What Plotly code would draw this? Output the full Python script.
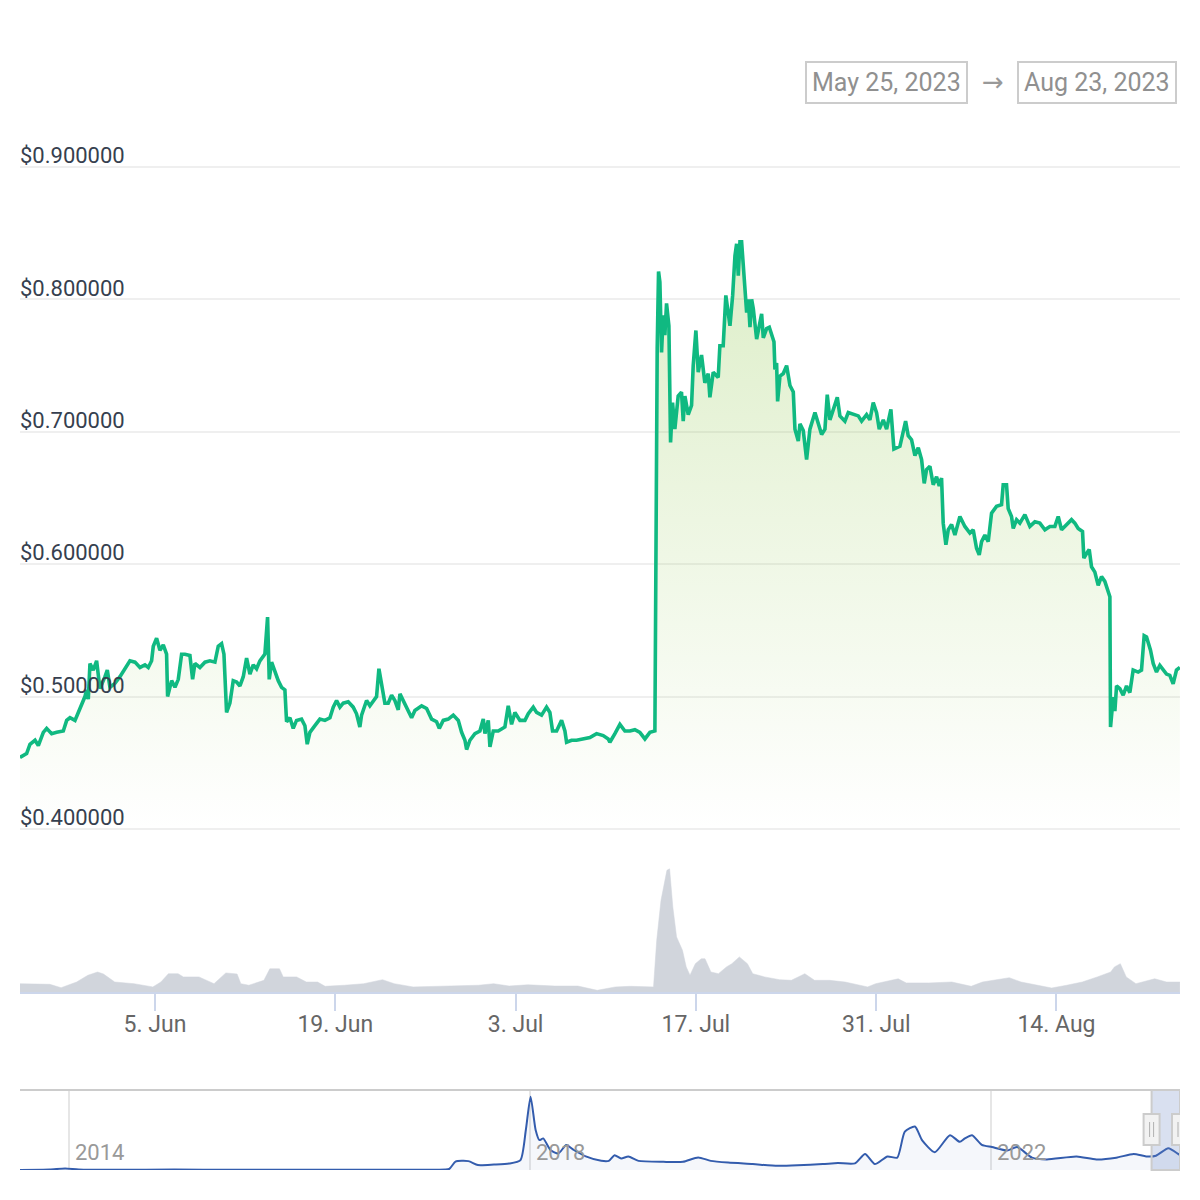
import pandas as pd
import plotly.graph_objects as go

# ---------------- data ----------------
start_time = "2023-05-25 00:00"
view_start = "2023-05-25 12:26"
view_end = "2023-08-23 14:10"

# (hours since start_time, price in USD)
price_points = [
    (12.4, 0.454), (24.8, 0.457), (31.0, 0.464), (40.4, 0.467), (46.6, 0.463), (55.9, 0.473), (62.1, 0.476),
    (71.4, 0.472), (80.7, 0.473), (93.1, 0.474), (99.4, 0.482), (105.6, 0.484), (114.9, 0.482), (121.1, 0.488),
    (127.3, 0.495), (133.5, 0.500), (136.6, 0.505), (139.7, 0.498), (142.8, 0.525), (149.0, 0.520), (155.2, 0.527),
    (161.4, 0.506), (170.8, 0.515), (175.1, 0.520), (180.1, 0.507), (189.4, 0.510), (198.7, 0.515), (208.0, 0.521),
    (217.3, 0.527), (226.7, 0.526), (236.0, 0.522), (245.3, 0.524), (251.5, 0.522), (257.7, 0.527), (260.8, 0.538),
    (267.0, 0.544), (273.2, 0.535), (279.4, 0.539), (285.6, 0.532), (287.5, 0.500), (295.0, 0.512), (301.2, 0.507),
    (307.4, 0.513), (313.6, 0.532), (319.8, 0.532), (329.1, 0.531), (334.1, 0.513), (338.4, 0.525), (347.7, 0.522),
    (357.1, 0.526), (366.4, 0.527), (375.7, 0.526), (381.9, 0.538), (388.1, 0.540), (392.5, 0.532), (397.4, 0.488),
    (403.6, 0.495), (409.8, 0.512), (416.1, 0.511), (422.3, 0.508), (428.5, 0.515), (434.7, 0.529), (440.9, 0.517),
    (447.1, 0.524), (453.3, 0.521), (459.5, 0.527), (468.8, 0.532), (473.8, 0.560), (476.9, 0.513), (481.3, 0.526),
    (487.5, 0.519), (493.7, 0.512), (499.9, 0.507), (506.1, 0.505), (509.2, 0.481), (515.4, 0.484), (521.6, 0.476),
    (527.8, 0.482), (537.1, 0.483), (543.4, 0.478), (547.7, 0.464), (552.7, 0.473), (562.0, 0.478), (571.3, 0.483),
    (580.6, 0.482), (590.0, 0.484), (596.2, 0.492), (602.4, 0.497), (608.6, 0.492), (614.8, 0.495), (624.1, 0.496),
    (633.4, 0.492), (639.6, 0.487), (645.8, 0.477), (649.0, 0.486), (658.3, 0.497), (664.5, 0.493), (670.7, 0.497),
    (676.9, 0.500), (681.3, 0.521), (686.2, 0.510), (692.4, 0.495), (698.6, 0.495), (704.9, 0.501), (711.1, 0.497),
    (717.3, 0.490),
    (720.5, 0.502), (729.8, 0.4945), (742.2, 0.484), (748.4, 0.4895), (760.9, 0.493), (770.2, 0.491), (779.5, 0.483),
    (788.8, 0.481), (793.8, 0.476), (801.2, 0.482), (810.5, 0.483), (819.9, 0.486), (829.2, 0.482), (835.4, 0.473),
    (841.6, 0.467), (844.7, 0.460), (850.9, 0.467), (860.2, 0.472), (869.5, 0.474), (875.8, 0.483), (878.9, 0.472),
    (885.1, 0.482), (888.2, 0.462), (894.4, 0.474), (903.7, 0.474), (916.1, 0.477), (922.3, 0.493), (928.5, 0.479),
    (934.7, 0.488), (944.1, 0.482), (953.4, 0.482), (959.6, 0.487), (968.9, 0.492), (975.1, 0.488), (984.4, 0.486),
    (993.7, 0.492), (999.9, 0.488), (1004.9, 0.474), (1012.4, 0.474), (1021.7, 0.482), (1027.9, 0.474),
    (1031.0, 0.4655), (1040.3, 0.467), (1049.6, 0.467), (1062.1, 0.468), (1074.5, 0.469), (1086.9, 0.472),
    (1099.3, 0.4705), (1108.6, 0.468), (1111.7, 0.4655), (1121.1, 0.472), (1130.4, 0.479), (1139.7, 0.474),
    (1149.0, 0.474), (1158.3, 0.475), (1167.6, 0.473), (1177.0, 0.468), (1186.3, 0.473), (1195.6, 0.474),
    (1197.4, 0.611), (1199.9, 0.763), (1202.4, 0.821), (1204.9, 0.813), (1208.0, 0.760), (1211.1, 0.788),
    (1214.2, 0.773), (1217.3, 0.797), (1221.7, 0.780), (1224.8, 0.692), (1228.5, 0.722), (1232.8, 0.702),
    (1239.0, 0.727), (1245.2, 0.730), (1248.4, 0.708), (1251.5, 0.727), (1257.7, 0.713), (1263.9, 0.720),
    (1267.0, 0.750), (1272.0, 0.7765), (1276.3, 0.745), (1282.5, 0.758), (1288.7, 0.737), (1295.0, 0.744),
    (1298.1, 0.726), (1304.3, 0.745), (1313.6, 0.741), (1316.7, 0.765), (1322.9, 0.765), (1327.8, 0.803),
    (1335.5, 0.780), (1340.5, 0.803), (1344.8, 0.833), (1347.9, 0.842), (1351.0, 0.818), (1354.1, 0.8435),
    (1357.2, 0.8435), (1360.3, 0.823), (1363.4, 0.813), (1366.6, 0.790), (1369.7, 0.800), (1372.8, 0.779),
    (1375.9, 0.800), (1379.0, 0.793), (1385.2, 0.770), (1391.4, 0.785), (1394.5, 0.789), (1397.6, 0.771),
    (1403.8, 0.778), (1408.8, 0.779), (1413.1, 0.773), (1417.5, 0.768), (1419.3, 0.747), (1422.4, 0.752),
    (1424.3, 0.723), (1428.7, 0.742), (1434.9, 0.744), (1441.1, 0.750), (1447.3, 0.735), (1453.5, 0.730),
    (1456.6, 0.702), (1462.8, 0.693), (1465.9, 0.706), (1472.1, 0.701), (1478.3, 0.679), (1484.5, 0.702),
    (1493.9, 0.7145), (1500.1, 0.707), (1506.3, 0.698), (1512.5, 0.702), (1516.8, 0.728), (1521.8, 0.709),
    (1528.0, 0.717), (1535.5, 0.726), (1540.4, 0.712), (1549.7, 0.708), (1556.0, 0.7145), (1565.3, 0.713),
    (1574.6, 0.712), (1580.8, 0.708), (1590.1, 0.713), (1596.3, 0.709), (1602.5, 0.722), (1608.7, 0.7145),
    (1613.7, 0.702), (1621.2, 0.709), (1627.4, 0.702), (1635.4, 0.717), (1641.0, 0.687), (1652.2, 0.689),
    (1658.4, 0.702), (1662.8, 0.708), (1667.7, 0.697), (1673.9, 0.694), (1680.2, 0.682), (1686.4, 0.688),
    (1692.6, 0.679), (1697.5, 0.661), (1701.9, 0.6715), (1708.1, 0.674), (1714.3, 0.660), (1720.5, 0.666),
    (1725.5, 0.659), (1729.8, 0.665), (1732.9, 0.631), (1737.9, 0.6146), (1742.3, 0.626), (1748.5, 0.630),
    (1754.7, 0.622), (1764.0, 0.636), (1773.3, 0.6285), (1782.6, 0.6235), (1788.8, 0.626), (1795.0, 0.612),
    (1800.0, 0.607), (1804.4, 0.617), (1810.6, 0.622), (1816.8, 0.617), (1823.0, 0.6386), (1832.3, 0.6437),
    (1841.6, 0.645), (1844.7, 0.660), (1850.9, 0.660), (1854.0, 0.642), (1860.2, 0.636), (1863.4, 0.627),
    (1869.6, 0.6336), (1875.8, 0.631), (1885.1, 0.6374), (1894.4, 0.6285), (1903.7, 0.632), (1913.0, 0.631),
    (1922.4, 0.626), (1931.7, 0.6285), (1941.0, 0.6285), (1947.2, 0.636), (1953.4, 0.626), (1962.7, 0.630),
    (1972.0, 0.6336), (1978.2, 0.631), (1984.4, 0.627), (1992.5, 0.6247), (1995.0, 0.6045), (2000.0, 0.608),
    (2005.0, 0.611), (2009.3, 0.598), (2015.5, 0.594), (2021.7, 0.584), (2027.9, 0.5906), (2034.1, 0.587),
    (2040.3, 0.578), (2043.5, 0.5754), (2044.7, 0.477), (2049.7, 0.4995), (2052.8, 0.489), (2055.9, 0.508),
    (2062.1, 0.506), (2068.3, 0.501), (2074.5, 0.508), (2080.7, 0.503), (2086.9, 0.520), (2096.2, 0.5185),
    (2102.4, 0.520), (2107.4, 0.546), (2111.8, 0.545), (2119.2, 0.535), (2124.2, 0.525), (2130.4, 0.5185),
    (2136.6, 0.5236), (2142.8, 0.520), (2149.0, 0.517), (2155.2, 0.516), (2161.4, 0.5096), (2167.6, 0.520),
    (2173.9, 0.522),
]

# (hours since start_time, volume in billion USD)
volume_points = [
    (12, 0.54), (46.5, 0.54), (68, 0.50), (89, 0.28), (118, 0.65), (139, 1.09), (157, 1.30), (168, 1.17),
    (189, 0.65), (225, 0.54), (260, 0.33), (275, 0.65), (289, 1.19), (307, 1.19), (317, 0.98), (346, 0.98),
    (374, 0.54), (396, 1.24), (417, 1.17), (424, 0.54), (439, 0.44), (467, 0.76), (478, 1.51), (496, 1.51),
    (503, 0.98), (528, 0.98), (546, 0.65), (567, 0.65), (581, 0.37), (617, 0.44), (653, 0.54), (688, 0.80),
    (710, 0.54), (745, 0.33), (795, 0.37), (867, 0.44), (895, 0.54), (924, 0.39), (959, 0.47), (1009, 0.39),
    (1052, 0.39), (1088, 0.11), (1122, 0.33), (1150, 0.37), (1193, 0.33), (1199, 3.36), (1207, 5.96),
    (1218, 7.91), (1223, 8.01), (1229, 5.53), (1236, 3.58), (1247, 2.71), (1254, 1.63), (1261, 1.09),
    (1271, 1.84), (1282, 2.16), (1289, 2.16), (1300, 1.30), (1314, 1.19), (1329, 1.63), (1339, 1.84),
    (1353, 2.28), (1368, 1.84), (1378, 1.19), (1400, 0.98), (1428, 0.80), (1450, 0.76), (1475, 1.19),
    (1493, 0.76), (1521, 0.76), (1550, 0.65), (1592, 0.33), (1607, 0.54), (1649, 0.86), (1664, 0.59),
    (1706, 0.59), (1749, 0.65), (1785, 0.37), (1806, 0.65), (1856, 0.93), (1878, 0.65), (1935, 0.26),
    (1963, 0.44), (1992, 0.65), (2020, 0.98), (2045, 1.30), (2052, 1.63), (2063, 1.84), (2074, 0.98),
    (2092, 0.54), (2127, 0.86), (2149, 0.65), (2174, 0.65),
]

# navigator: full history (date, price USD)
nav_points = [
    ("2013-07-30", 0.005), ("2013-11-01", 0.02), ("2013-12-20", 0.06), ("2014-02-01", 0.02), ("2014-06-01", 0.007),
    ("2014-12-01", 0.02), ("2015-06-01", 0.008), ("2016-01-01", 0.006), ("2016-06-01", 0.007), ("2016-12-01", 0.007),
    ("2017-03-01", 0.01), ("2017-04-20", 0.04), ("2017-05-10", 0.34), ("2017-06-20", 0.36), ("2017-07-20", 0.20),
    ("2017-09-09", 0.22), ("2017-10-27", 0.26), ("2017-12-02", 0.40), ("2017-12-19", 1.62), ("2018-01-03", 2.97),
    ("2018-01-19", 1.62), ("2018-01-31", 1.21), ("2018-02-12", 1.28), ("2018-03-07", 0.81), ("2018-04-01", 0.67),
    ("2018-04-26", 1.01), ("2018-05-20", 0.81), ("2018-06-27", 0.55), ("2018-08-15", 0.37), ("2018-09-08", 0.37),
    ("2018-09-26", 0.60), ("2018-10-17", 0.47), ("2018-11-09", 0.55), ("2018-12-11", 0.37), ("2019-02-28", 0.33),
    ("2019-05-01", 0.33), ("2019-06-18", 0.51), ("2019-07-28", 0.37), ("2019-09-21", 0.30), ("2019-12-08", 0.24),
    ("2020-02-25", 0.17), ("2020-04-28", 0.19), ("2020-07-17", 0.24), ("2020-09-03", 0.28), ("2020-10-27", 0.27),
    ("2020-11-28", 0.65), ("2020-12-29", 0.24), ("2021-02-07", 0.55), ("2021-03-10", 0.50), ("2021-04-03", 1.55),
    ("2021-05-05", 1.76), ("2021-05-28", 1.20), ("2021-07-07", 0.72), ("2021-08-24", 1.41), ("2021-09-24", 1.14),
    ("2021-10-10", 1.28), ("2021-11-02", 1.41), ("2021-12-03", 1.02), ("2022-01-04", 0.93), ("2022-02-21", 0.79),
    ("2022-03-25", 0.93), ("2022-05-11", 0.50), ("2022-06-27", 0.43), ("2022-09-29", 0.55), ("2022-12-01", 0.43),
    ("2023-02-02", 0.50), ("2023-03-29", 0.65), ("2023-05-08", 0.55), ("2023-06-08", 0.58), ("2023-07-17", 0.88),
    ("2023-08-17", 0.65), ("2023-08-23", 0.60),
]
nav_start = "2013-07-30"
nav_end = "2023-08-23"

price_ticks = [0.4, 0.5, 0.6, 0.7, 0.8, 0.9]
price_tick_labels = ["$0.400000", "$0.500000", "$0.600000", "$0.700000", "$0.800000", "$0.900000"]
date_ticks = ["2023-06-05", "2023-06-19", "2023-07-03", "2023-07-17", "2023-07-31", "2023-08-14"]
date_tick_labels = ["5. Jun", "19. Jun", "3. Jul", "17. Jul", "31. Jul", "14. Aug"]
year_ticks = ["2014-01-01", "2018-01-01", "2022-01-01"]
year_labels = ["2014", "2018", "2022"]
range_labels = ["May 25, 2023", "Aug 23, 2023"]
range_dates = ["2023-05-25", "2023-08-23"]

# ---------------- build ----------------
t0 = pd.Timestamp(start_time)
p_time = [t0 + pd.Timedelta(hours=h) for h, _ in price_points]
p_val = [v for _, v in price_points]
v_time = [t0 + pd.Timedelta(hours=h) for h, _ in volume_points]
v_val = [v for _, v in volume_points]
n_time = [pd.Timestamp(d) for d, _ in nav_points]
n_val = [v for _, v in nav_points]

W = H = 1200
FONT = "Roboto"


def py(px):
    return 1 - px / H


fig = go.Figure()

fig.add_trace(go.Scatter(
    x=v_time, y=v_val, mode="lines", xaxis="x", yaxis="y2",
    line=dict(color="#d1d5dc", width=0.5), fill="tozeroy", fillcolor="#d1d5dc",
    hoverinfo="skip",
))

fig.add_trace(go.Scatter(
    x=p_time, y=p_val, mode="lines", xaxis="x", yaxis="y",
    line=dict(color="#10b981", width=3.6),
    fill="tozeroy",
    fillgradient=dict(type="vertical", start=0.4, stop=max(p_val),
                      colorscale=[[0, "rgba(141,198,71,0)"], [1, "rgba(141,198,71,0.30)"]]),
    hoverinfo="skip",
))

fig.add_trace(go.Scatter(
    x=n_time, y=n_val, mode="lines", xaxis="x2", yaxis="y3",
    line=dict(color="#335cad", width=2, shape="spline", smoothing=0.6),
    fill="tozeroy", fillcolor="rgba(51,92,173,0.05)",
    hoverinfo="skip",
))

x_dom = [20 / W, 1180 / W]

fig.update_layout(
    width=W, height=H,
    margin=dict(l=0, r=0, t=0, b=0),
    paper_bgcolor="white", plot_bgcolor="white",
    showlegend=False, hovermode=False,
    font=dict(family=FONT),
    xaxis=dict(
        domain=x_dom, anchor="y2", type="date",
        range=[view_start, view_end],
        tickvals=date_ticks, ticktext=date_tick_labels,
        ticks="outside", ticklen=17, tickwidth=2, tickcolor="#ccd6eb",
        ticklabelstandoff=-7,
        showline=True, linecolor="#ccd6eb", linewidth=2,
        showgrid=False, zeroline=False,
        tickfont=dict(family=FONT, size=23, color="#666666"),
        fixedrange=True,
    ),
    yaxis=dict(
        domain=[py(831.6), py(120)], anchor="x",
        range=[0.398, 0.9355],
        tickvals=price_ticks, ticktext=price_tick_labels,
        ticklabelposition="inside top", ticks="",
        ticklabelstandoff=-3, ticklabelshift=4,
        showgrid=True, gridcolor="#efefef", gridwidth=2,
        zeroline=False, showline=False,
        tickfont=dict(family=FONT, size=22, color="#363f4f"),
        fixedrange=True,
    ),
    yaxis2=dict(
        domain=[py(992), py(840)], anchor="x",
        range=[0, 9.88],
        showgrid=False, zeroline=False, showticklabels=False, showline=False,
        fixedrange=True,
    ),
    xaxis2=dict(
        domain=x_dom, anchor="y3", type="date",
        range=[nav_start, nav_end],
        tickvals=year_ticks, showticklabels=False, ticks="",
        showgrid=True, gridcolor="#e6e6e6", gridwidth=2,
        zeroline=False, showline=False, fixedrange=True,
    ),
    yaxis3=dict(
        domain=[py(1170), py(1090)], anchor="x2",
        range=[0, 3.24],
        showgrid=False, zeroline=False, showticklabels=False, showline=False,
        fixedrange=True,
    ),
)

shapes = []
# navigator top outline
shapes.append(dict(type="line", xref="paper", yref="paper", x0=x_dom[0], x1=x_dom[1],
                   y0=py(1090), y1=py(1090), line=dict(color="#cccccc", width=2), layer="above"))
# navigator selected range
shapes.append(dict(type="rect", xref="x2", yref="paper", x0=range_dates[0], x1=range_dates[1],
                   y0=py(1170), y1=py(1090), fillcolor="rgba(102,133,194,0.25)",
                   line=dict(color="#cccccc", width=2), layer="above"))
# handles
for d in range_dates:
    shapes.append(dict(type="rect", xref="x2", yref="paper", xsizemode="pixel", xanchor=d,
                       x0=-8, x1=8, y0=py(1145), y1=py(1114),
                       fillcolor="#f2f2f2", line=dict(color="#cccccc", width=2), layer="above"))
    for off in (-2, 2):
        shapes.append(dict(type="line", xref="x2", yref="paper", xsizemode="pixel", xanchor=d,
                           x0=off, x1=off, y0=py(1137), y1=py(1122),
                           line=dict(color="#b0b0b0", width=1), layer="above"))
fig.update_layout(shapes=shapes)

annotations = []
for yv, yl in zip(year_ticks, year_labels):
    annotations.append(dict(text=yl, xref="x2", yref="paper", x=yv, y=py(1167),
                            xanchor="left", yanchor="bottom", xshift=4, showarrow=False,
                            font=dict(family=FONT, size=22, color="#999999")))
box_centers = [886 / W, 1097 / W]
for cx, lab in zip(box_centers, range_labels):
    annotations.append(dict(text=lab, xref="paper", yref="paper", x=cx, y=py(82),
                            xanchor="center", yanchor="middle", showarrow=False,
                            bordercolor="#cccccc", borderwidth=2, borderpad=5, bgcolor="white",
                            font=dict(family=FONT, size=25, color="#909090")))
annotations.append(dict(text="→", xref="paper", yref="paper", x=993 / W, y=py(82),
                        xanchor="center", yanchor="middle", showarrow=False,
                        font=dict(family="DejaVu Sans", size=26, color="#999999")))
fig.update_layout(annotations=annotations)

fig.write_html("out.html", config={"displayModeBar": False},
               post_script="document.body.style.margin='0';document.body.style.overflow='hidden';")
